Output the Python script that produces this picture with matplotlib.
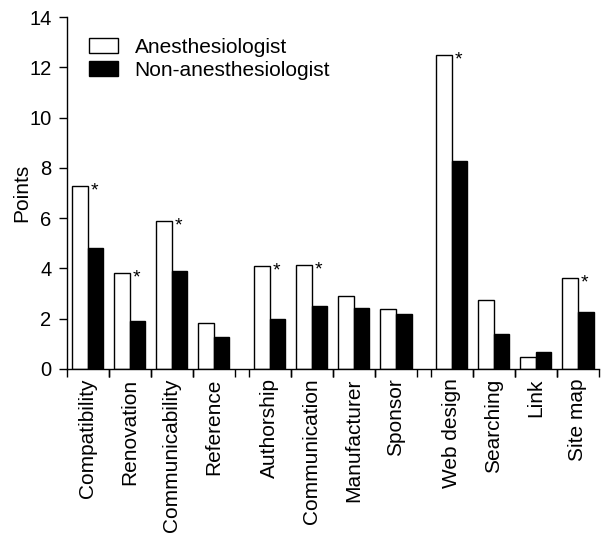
import matplotlib.pyplot as plt
import numpy as np

plt.rcParams['font.family'] = ['Liberation Sans', 'DejaVu Sans']
plt.rcParams['font.size'] = 15

# Data
categories = ['Compatibility', 'Renovation', 'Communicability', 'Reference',
              'Authorship', 'Communication', 'Manufacturer', 'Sponsor',
              'Web design', 'Searching', 'Link', 'Site map']
anesthesiologist = [7.28, 3.80, 5.88, 1.82, 4.08, 4.14, 2.88, 2.37, 12.5, 2.75, 0.45, 3.60]
non_anesthesiologist = [4.80, 1.90, 3.88, 1.28, 2.00, 2.50, 2.41, 2.20, 8.29, 1.37, 0.68, 2.28]
significant = [True, True, True, False, True, True, False, False, True, False, False, True]

# group positions: blocks of 4 with a small gap between blocks
idx = np.arange(len(categories))
centers = idx + 0.33 * (idx // 4)
w = 0.37

fig = plt.figure(figsize=(6.02, 5.36), dpi=100)
ax = fig.add_axes([0.111, 0.312, 0.884, 0.656])

ax.bar(centers - w / 2, anesthesiologist, w, color='white', edgecolor='black',
       linewidth=1.0, label='Anesthesiologist')
ax.bar(centers + w / 2, non_anesthesiologist, w, color='black', edgecolor='black',
       linewidth=1.0, label='Non-anesthesiologist')

# significance markers
for c, v, s in zip(centers, anesthesiologist, significant):
    if s:
        ax.text(c + 0.06, v - 0.38, '*', ha='left', va='baseline', fontsize=14)

ax.set_xlim(centers[0] - 0.5, centers[-1] + 0.5)
ax.set_ylim(0, 14)
ax.set_yticks(range(0, 15, 2))
ax.set_ylabel('Points', fontsize=15)
ax.yaxis.set_label_coords(-0.066, 0.5)

ax.set_xticks(centers)
ax.set_xticklabels(categories, rotation=90)
ax.set_xticks(np.concatenate([centers - 0.5, centers + 0.5]), minor=True)
ax.tick_params(axis='x', which='major', length=0, pad=7)
ax.tick_params(axis='x', which='minor', length=6, width=1, direction='out')
ax.tick_params(axis='y', length=6, width=1, direction='out', pad=5, labelsize=14.5)

for sp in ['top', 'right']:
    ax.spines[sp].set_visible(False)
for sp in ['left', 'bottom']:
    ax.spines[sp].set_linewidth(1)

ax.legend(loc='upper left', bbox_to_anchor=(0.041, 0.942), frameon=False,
          handlelength=1.4, handleheight=0.7, borderaxespad=0, borderpad=0,
          labelspacing=0.2, fontsize=15, handletextpad=0.8)

plt.savefig('out.png', dpi=100)
